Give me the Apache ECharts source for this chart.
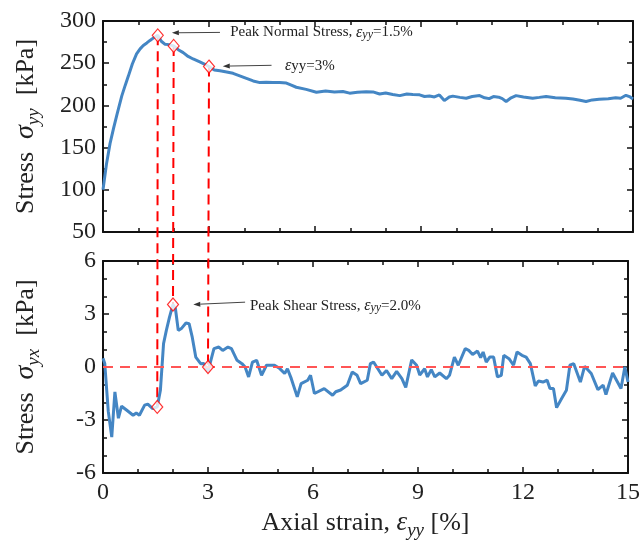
<!DOCTYPE html>
<html><head><meta charset="utf-8">
<script src="https://cdn.jsdelivr.net/npm/echarts@6/dist/echarts.min.js"></script>
<style>html,body{margin:0;padding:0;background:#fff}#c{width:643px;height:542px}</style>
</head><body><div id="c"></div>
<script>
// ---- data ----
const strainTop = [0, 0.1, 0.2, 0.3, 0.4, 0.53, 0.63, 0.72, 0.83, 0.95, 1.05, 1.14, 1.24, 1.33, 1.43, 1.55, 1.65, 1.75, 1.87, 2.0, 2.13, 2.27, 2.41, 2.55, 2.74, 2.87, 3.0, 3.15, 3.31, 3.5, 3.68, 3.87, 4.06, 4.25, 4.44, 4.62, 4.81, 5.0, 5.19, 5.33, 5.47, 5.75, 6.04, 6.3, 6.55, 6.79, 6.98, 7.2, 7.45, 7.64, 7.83, 8.0, 8.2, 8.4, 8.6, 8.77, 8.96, 9.1, 9.24, 9.38, 9.52, 9.66, 9.8, 9.9, 10.1, 10.28, 10.45, 10.66, 10.8, 10.93, 11.05, 11.2, 11.3, 11.41, 11.55, 11.69, 11.9, 12.16, 12.35, 12.54, 12.8, 13.1, 13.3, 13.5, 13.67, 13.85, 14.04, 14.3, 14.51, 14.65, 14.8, 14.92, 15.0];
const stressYY = [100, 131, 155, 173, 190, 211, 224, 235, 249, 261, 267, 271, 274, 277, 280, 283, 276, 272.5, 272, 270.5, 266, 262.5, 258, 255, 251.5, 249, 246, 242, 241, 239.5, 238, 235, 232, 229, 227, 227.5, 227, 227, 226.5, 224, 221.5, 219, 215.6, 217, 216, 216.5, 214.5, 215.5, 216.3, 216, 213.5, 214.8, 213, 211.6, 213.5, 213, 212.5, 210.5, 211.1, 210, 212.4, 205.7, 210, 211, 209.5, 208.5, 210.5, 211.6, 209, 208, 210.5, 209.7, 208, 204.6, 209, 211.6, 210, 208.5, 209.5, 210.6, 209, 208.5, 207.5, 206, 204.6, 206.5, 207.4, 208, 209, 208.5, 212, 210, 207.5];

const strainBot = [0, 0.05, 0.15, 0.25, 0.34, 0.44, 0.53, 0.68, 0.86, 0.95, 1.04, 1.19, 1.28, 1.42, 1.55, 1.64, 1.73, 1.81, 1.9, 2.0, 2.07, 2.15, 2.25, 2.37, 2.46, 2.55, 2.65, 2.79, 2.88, 3.0, 3.17, 3.31, 3.42, 3.57, 3.67, 3.83, 3.97, 4.06, 4.16, 4.27, 4.39, 4.53, 4.67, 4.9, 5.05, 5.19, 5.27, 5.38, 5.55, 5.66, 5.85, 5.93, 6.04, 6.32, 6.56, 6.65, 6.79, 6.98, 7.12, 7.26, 7.36, 7.55, 7.64, 7.73, 7.97, 8.1, 8.25, 8.39, 8.54, 8.65, 8.82, 8.96, 9.05, 9.19, 9.27, 9.38, 9.48, 9.62, 9.81, 9.9, 10.04, 10.15, 10.35, 10.45, 10.56, 10.7, 10.79, 10.86, 10.95, 11.05, 11.16, 11.27, 11.38, 11.45, 11.6, 11.73, 11.83, 11.97, 12.09, 12.21, 12.35, 12.44, 12.57, 12.69, 12.77, 12.87, 12.96, 13.1, 13.24, 13.34, 13.45, 13.64, 13.76, 13.95, 14.14, 14.29, 14.37, 14.56, 14.8, 14.91, 15.0];
const stressYX = [0.5, 0.2, -2.5, -3.97, -1.41, -2.9, -2.22, -2.45, -2.73, -2.6, -2.73, -2.16, -2.1, -2.35, -2.26, -1.32, 1.32, 2.07, 2.82, 3.54, 3.3, 2.07, 2.2, 2.49, 2.45, 1.69, 0.56, 0.19, 0.2, -0.25, 1.04, 1.13, 0.94, 1.13, 1.04, 0.38, 0.19, 0, -0.56, 0.28, 0.38, -0.47, 0.1, 0.1, -0.09, -0.37, -0.1, -0.66, -1.69, -0.94, -0.75, -0.47, -1.5, -1.22, -1.6, -1.4, -1.3, -1.03, -0.28, -0.47, -0.94, -0.75, 0.19, 0.28, -0.47, -0.2, -0.66, -0.25, -0.66, -1.15, 0.4, 0.1, -0.45, -0.1, -0.56, -0.15, -0.56, -0.34, -0.66, -0.47, 0.56, 0.1, 1.04, 0.94, 0.71, 0.9, 0.53, 0.85, 0.28, 0.56, 0.56, -0.56, -0.47, 0.66, 0.47, 0.1, 0.85, 0.66, 0.56, 0.19, -1.07, -0.79, -0.85, -0.75, -1.22, -1.22, -2.3, -1.8, -1.32, 0.1, 0.19, -0.85, 0.04, -0.37, -1.28, -1.03, -1.56, -0.34, -1.22, 0, -0.85];

const keyStrain = [1.55, 2.0, 3.0];
const keyYY = [283, 270.5, 246];
const keyYX = [-2.26, 3.54, 0];

const xRange = [0, 15, 3];        // min, max, interval
const yyRange = [50, 300, 50];
const yxRange = [-6, 6, 3];

// annotation anchors (data coords): [arrowFromX, arrowFromY, arrowToX, arrowToY, textX, textY]
const noteNormal = [3.31, 286.5, 1.95, 286, 3.6, 286.5];
const note3 = [4.77, 247.5, 3.39, 246.5, 5.15, 247];
const noteShear = [4.06, 3.67, 2.58, 3.54, 4.2, 3.45];

// ---- chart ----
const FONT = '"Liberation Serif","Times New Roman",serif';
const INK = '#111';
const BLUE = '#4486C4';

function xAx(grid, pos, show, name) {
  const a = {
    type: 'value', gridIndex: grid, position: pos,
    min: xRange[0], max: xRange[1], interval: xRange[2],
    axisLine: {show: true, onZero: false, lineStyle: {color: INK, width: 2}},
    axisTick: {show: true, inside: true, length: 6, lineStyle: {color: INK, width: 1.5}},
    minorTick: {show: true, splitNumber: 3, length: 4, lineStyle: {color: INK, width: 1.5}},
    axisLabel: {show: show, fontFamily: FONT, fontSize: 24, color: '#222', margin: 8},
    splitLine: {show: false}
  };
  if (name) {
    a.name = name; a.nameLocation = 'middle'; a.nameGap = 33;
    a.nameTextStyle = {fontFamily: FONT, fontSize: 26, color: '#222', lineHeight: 34,
      rich: {
        e: {fontFamily: FONT, fontSize: 27, fontStyle: 'italic', color: '#222', lineHeight: 34},
        s: {fontFamily: FONT, fontSize: 19, fontStyle: 'italic', color: '#222', lineHeight: 16, verticalAlign: 'bottom'},
        n: {fontFamily: FONT, fontSize: 26, color: '#222', lineHeight: 34}
      }};
  }
  return a;
}
function yAx(grid, pos, show, range, minorSplit, name) {
  const a = {
    type: 'value', gridIndex: grid, position: pos,
    min: range[0], max: range[1], interval: range[2],
    axisLine: {show: true, onZero: false, lineStyle: {color: INK, width: 2}},
    axisTick: {show: true, inside: true, length: 6, lineStyle: {color: INK, width: 1.5}},
    minorTick: {show: true, splitNumber: minorSplit, length: 4, lineStyle: {color: INK, width: 1.5}},
    axisLabel: {show: show, fontFamily: FONT, fontSize: 24, color: '#222', margin: 7},
    splitLine: {show: false}
  };
  if (name) {
    a.name = name; a.nameLocation = 'middle'; a.nameGap = 60; a.nameRotate = 90;
    a.nameTextStyle = {fontFamily: FONT, fontSize: 26, color: '#222', lineHeight: 34,
      rich: {
        e: {fontFamily: FONT, fontSize: 28, fontStyle: 'italic', color: '#222', lineHeight: 34},
        s: {fontFamily: FONT, fontSize: 19, fontStyle: 'italic', color: '#222', lineHeight: 16, verticalAlign: 'bottom'},
        n: {fontFamily: FONT, fontSize: 26, color: '#222', lineHeight: 34}
      }};
  }
  return a;
}

const chart = echarts.init(document.getElementById('c'), null, {renderer: 'canvas'});
const option = {
  animation: false,
  backgroundColor: '#fff',
  grid: [
    {left: 103, right: 10, top: 21, height: 211},
    {left: 103, right: 10, top: 261, height: 212}
  ],
  xAxis: [
    xAx(0, 'bottom', false), xAx(0, 'top', false),
    xAx(1, 'bottom', true, '{n|Axial strain, }{e|ε}{s|yy}{n| [%]}'), xAx(1, 'top', false)
  ],
  yAxis: [
    yAx(0, 'left', true, yyRange, 2, '{n|Stress  }{e|σ}{s|yy}{n|  [kPa]}'), yAx(0, 'right', false, yyRange, 2),
    yAx(1, 'left', true, yxRange, 3, '{n|Stress  }{e|σ}{s|yx}{n|  [kPa]}'), yAx(1, 'right', false, yxRange, 3)
  ],
  series: [
    {type: 'line', xAxisIndex: 0, yAxisIndex: 0, symbol: 'none', z: 3,
     data: strainTop.map((x, i) => [x, stressYY[i]]),
     lineStyle: {color: BLUE, width: 3}},
    {type: 'line', xAxisIndex: 2, yAxisIndex: 2, symbol: 'none', z: 3,
     data: strainBot.map((x, i) => [x, stressYX[i]]),
     lineStyle: {color: BLUE, width: 3},
     markLine: {silent: true, symbol: 'none', label: {show: false}, animation: false,
       lineStyle: {color: '#ff5555', type: [10, 7], width: 2}, data: [{yAxis: 0}]}},
    {type: 'scatter', xAxisIndex: 0, yAxisIndex: 0, symbol: 'diamond', symbolSize: [11, 13], z: 5,
     data: keyStrain.map((x, i) => [x, keyYY[i]]),
     itemStyle: {color: '#fff', borderColor: '#ff0000', borderWidth: 1.2}},
    {type: 'scatter', xAxisIndex: 2, yAxisIndex: 2, symbol: 'diamond', symbolSize: [11, 13], z: 5,
     data: keyStrain.map((x, i) => [x, keyYX[i]]),
     itemStyle: {color: '#fff', borderColor: '#ff0000', borderWidth: 1.2}}
  ]
};
chart.setOption(option);

function pTop(x, y) { return chart.convertToPixel({seriesIndex: 0}, [x, y]); }
function pBot(x, y) { return chart.convertToPixel({seriesIndex: 1}, [x, y]); }

function arrow(a, b) {
  const dx = b[0] - a[0], dy = b[1] - a[1];
  const L = Math.sqrt(dx * dx + dy * dy), ux = dx / L, uy = dy / L;
  const hl = 7, hw = 2.5;
  const base = [b[0] - ux * hl, b[1] - uy * hl];
  return [
    {type: 'line', z: 10, shape: {x1: a[0], y1: a[1], x2: base[0], y2: base[1]},
     style: {stroke: '#444', lineWidth: 1}},
    {type: 'polygon', z: 10, shape: {points: [b, [base[0] - uy * hw, base[1] + ux * hw], [base[0] + uy * hw, base[1] - ux * hw]]},
     style: {fill: '#333'}}
  ];
}
const noteRich = {
  n: {fontFamily: FONT, fontSize: 15, fill: '#222'},
  e: {fontFamily: FONT, fontSize: 16, fontStyle: 'italic', fill: '#222'},
  s: {fontFamily: FONT, fontSize: 12, fontStyle: 'italic', fill: '#222', verticalAlign: 'bottom', lineHeight: 10}
};
function note(p, txt) {
  return {type: 'text', z: 10, x: p[0], y: p[1],
    style: {text: txt, rich: noteRich, verticalAlign: 'middle', align: 'left', fontFamily: FONT, fontSize: 15, fill: '#222'}};
}

const g = [];
keyStrain.forEach((x, i) => {
  const a = pTop(x, keyYY[i]), b = pBot(x, keyYX[i]);
  g.push({type: 'line', z: 1, shape: {x1: a[0], y1: a[1], x2: b[0], y2: b[1]},
    style: {stroke: '#ff0000', lineWidth: 2, lineDash: [10, 6]}});
});
g.push(...arrow(pTop(noteNormal[0], noteNormal[1]), pTop(noteNormal[2], noteNormal[3])));
g.push(note(pTop(noteNormal[4], noteNormal[5]), '{n|Peak Normal Stress, }{e|ε}{s|yy}{n|=1.5%}'));
g.push(...arrow(pTop(note3[0], note3[1]), pTop(note3[2], note3[3])));
g.push(note(pTop(note3[4], note3[5]), '{e|ε}{n|yy=3%}'));
g.push(...arrow(pBot(noteShear[0], noteShear[1]), pBot(noteShear[2], noteShear[3])));
g.push(note(pBot(noteShear[4], noteShear[5]), '{n|Peak Shear Stress, }{e|ε}{s|yy}{n|=2.0%}'));
chart.setOption({graphic: {elements: g}});
</script>
</body></html>
